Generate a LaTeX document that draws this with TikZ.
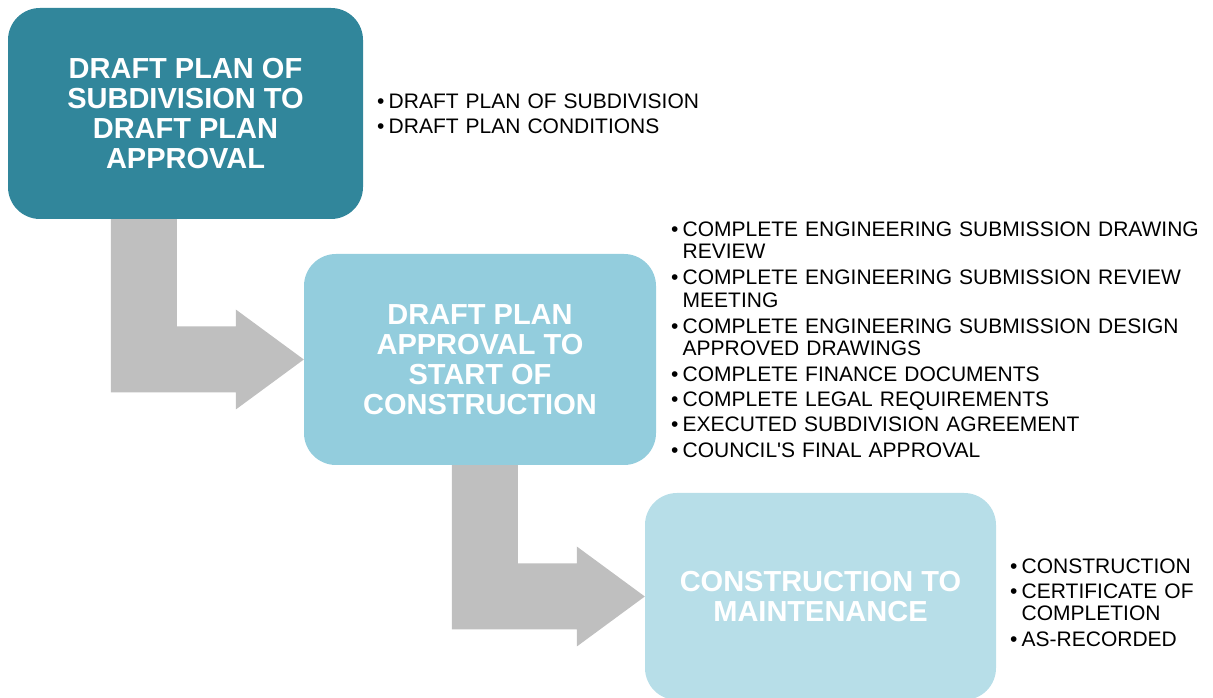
\documentclass[tikz,border=0pt]{standalone}
\usepackage{fontspec}
\setmainfont{Liberation Sans}
\usetikzlibrary{calc}

\definecolor{stagedark}{RGB}{49,134,155}
\definecolor{stagemid}{RGB}{147,205,221}
\definecolor{stagelight}{RGB}{183,222,232}
\definecolor{arrowgray}{RGB}{191,191,191}

\newcommand{\litem}[1]{\par\noindent\makebox[11.5pt][l]{\textbullet}%
  \begin{tabular}[t]{@{}l@{}}#1\end{tabular}}

% bent block arrow from the bottom of one stage to the side of the next
\newcommand{\bendarrow}[2]{%
\fill[arrowgray] let \p1=(#1.south), \p2=(#2.west) in
  (\x2-193pt,\y1) -- (\x2-127pt,\y1) -- (\x2-127pt,\y2+33pt)
  -- (\x2-68pt,\y2+33pt) -- (\x2-68pt,\y2+50pt) -- (\x2,\y2)
  -- (\x2-68pt,\y2-50pt) -- (\x2-68pt,\y2-33pt) -- (\x2-193pt,\y2-33pt)
  -- cycle;}

\tikzset{
  stage/.style={rounded corners=32pt, inner sep=0pt, text=white,
    align=center, font=\fontsize{29}{30}\selectfont\bfseries},
  tasks/.style={anchor=north west, inner sep=0pt, text width=540pt,
    align=left, font=\fontsize{21}{22.4}\selectfont\setlength{\parskip}{2.7pt}}
}

\begin{document}
\begin{tikzpicture}[x=1pt,y=1pt]
\useasboundingbox (0,0) rectangle (1213,698);
% stages
\node[stage, fill=stagedark, minimum width=355pt, minimum height=211pt]
  (draft) at (185.5,584.5) {DRAFT PLAN OF\\SUBDIVISION TO\\DRAFT PLAN\\APPROVAL};
\node[stage, fill=stagemid, minimum width=352pt, minimum height=211pt]
  (start) at (480,338.5) {DRAFT PLAN\\APPROVAL TO\\START OF\\CONSTRUCTION};
\node[stage, fill=stagelight, minimum width=351pt, minimum height=207pt]
  (build) at (820.5,101.5) {CONSTRUCTION TO\\MAINTENANCE};
% arrows
\bendarrow{draft}{start}
\bendarrow{start}{build}
% task lists
\node[tasks] (draftlist) at (377,615) {%
  \litem{DRAFT PLAN OF SUBDIVISION}
  \litem{DRAFT PLAN CONDITIONS}};
\node[tasks] (startlist) at (671,487) {%
  \litem{COMPLETE ENGINEERING SUBMISSION DRAWING\\REVIEW}
  \litem{COMPLETE ENGINEERING SUBMISSION REVIEW\\MEETING}
  \litem{COMPLETE ENGINEERING SUBMISSION DESIGN\\APPROVED DRAWINGS}
  \litem{COMPLETE FINANCE DOCUMENTS}
  \litem{COMPLETE LEGAL REQUIREMENTS}
  \litem{EXECUTED SUBDIVISION AGREEMENT}
  \litem{COUNCIL\textquotesingle S FINAL APPROVAL}};
\node[tasks, text width=200pt] (buildlist) at (1010,150) {%
  \litem{CONSTRUCTION}
  \litem{CERTIFICATE OF\\COMPLETION}
  \litem{AS-RECORDED}};
\end{tikzpicture}
\end{document}
